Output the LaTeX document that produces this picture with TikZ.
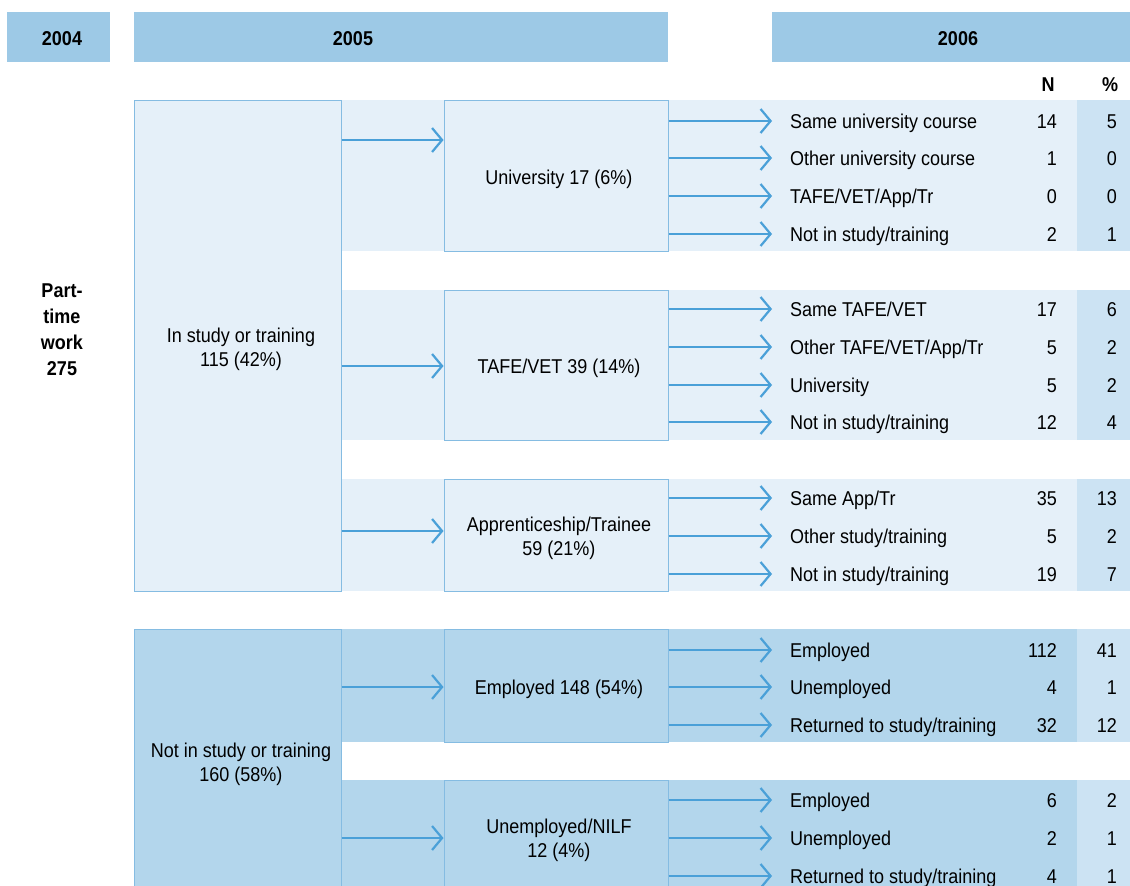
\documentclass[tikz,border=0pt]{standalone}
\usepackage{fontspec}
\setmainfont[FakeStretch=0.9]{Liberation Sans}
\usetikzlibrary{arrows.meta}
\definecolor{hdr}{RGB}{157,201,230}
\definecolor{lite}{RGB}{229,240,249}
\definecolor{mid}{RGB}{179,214,236}
\definecolor{pct}{RGB}{204,227,243}
\definecolor{edge}{RGB}{133,188,226}
\definecolor{arr}{RGB}{74,160,216}
\begin{document}
\begin{tikzpicture}[x=1pt,y=-1pt,
  font=\fontsize{20}{24}\selectfont,
  hdrbox/.style={fill=hdr, draw=none, inner sep=0pt},
  hdrtxt/.style={font=\fontsize{20}{24}\selectfont\bfseries, inner sep=0pt, yshift=-2pt},
  box/.style={draw=edge, line width=1pt, inner sep=0pt},
  txt/.style={align=center, inner sep=0pt, yshift=-2pt},
  rowlab/.style={anchor=west, inner xsep=18pt, inner ysep=0pt, text height=17pt, text depth=2pt},
  num/.style={anchor=east, inner sep=0pt, text height=15pt, text depth=4pt, yshift=-2pt},
  flow/.style={draw=arr, line width=2.4pt, -{Straight Barb[length=10pt,width=24pt,line width=2.2pt]}},
  bold/.style={font=\fontsize{20}{26}\selectfont\bfseries, align=center, inner sep=0pt, yshift=-2pt}]
\path[use as bounding box, fill=white] (0,0) rectangle (1130,886);
% headers
\node[hdrbox, minimum width=103, minimum height=50] (h4) at (58.5,37) {};
\node[hdrbox, minimum width=534, minimum height=50] (h5) at (401,37) {};
\node[hdrbox, minimum width=358, minimum height=50] (h6) at (951,37) {};
\node[hdrtxt] (t4) at (62,37) {2004};
\node[hdrtxt] (t5) at (353,37) {2005};
\node[hdrtxt] (t6) at (958,37) {2006};
\node[bold] (colN) at (1048,83) {N};
\node[bold] (colP) at (1110,83) {\%};
\node[bold] (ptw) at (62,328) {Part-\\time\\work\\275};
% bands
\fill[lite] (341,100) rectangle (1130,251);
\fill[lite] (341,290) rectangle (1130,440);
\fill[lite] (341,479) rectangle (1130,591);
\fill[mid] (341,629) rectangle (1130,742);
\fill[mid] (341,780) rectangle (1130,886);
\foreach \a/\b in {100/251,290/440,479/591,629/742,780/886}
  \fill[pct] (1077,\a) rectangle (1130,\b);
% left boxes
\node[box, fill=lite, minimum width=207, minimum height=491] (ins) at (237.5,345.5) {};
\node[txt] (inst) at (241,347) {In study or training\\115 (42\%)};
\node[box, fill=mid, minimum width=207, minimum height=258] (nins) at (237.5,758) {};
\node[txt] (ninst) at (241,762) {Not in study or training\\160 (58\%)};
% sub boxes
\node[box, fill=lite, minimum width=224, minimum height=151] (uni) at (556,175.5) {};
\node[txt] (unit) at (559,177) {University 17 (6\%)};
\node[box, fill=lite, minimum width=224, minimum height=150] (tafe) at (556,365) {};
\node[txt] (tafet) at (559,366) {TAFE/VET 39 (14\%)};
\node[box, fill=lite, minimum width=224, minimum height=112] (app) at (556,535) {};
\node[txt] (appt) at (559,536) {Apprenticeship/Trainee\\59 (21\%)};
\node[box, fill=mid, minimum width=224, minimum height=113] (emp) at (556,685.5) {};
\node[txt] (empt) at (559,687) {Employed 148 (54\%)};
\node[box, fill=mid, minimum width=224, minimum height=107] (une) at (556,833.5) {};
\node[txt] (unet) at (559,838) {Unemployed/NILF\\12 (4\%)};
% arrows from left boxes
\coordinate (a1) at (0,140);
\coordinate (a2) at (0,366);
\coordinate (a3) at (0,531);
\coordinate (a4) at (0,687);
\coordinate (a5) at (0,838);
\draw[flow] (ins.east |- a1) -- (uni.west |- a1);
\draw[flow] (ins.east |- a2) -- (tafe.west |- a2);
\draw[flow] (ins.east |- a3) -- (app.west |- a3);
\draw[flow] (nins.east |- a4) -- (emp.west |- a4);
\draw[flow] (nins.east |- a5) -- (une.west |- a5);
% rows
\foreach \src/\id/\y/\lab/\n/\p in {
  uni/r1/121/Same university course/14/5,
  uni/r2/158/Other university course/1/0,
  uni/r3/196/TAFE\slash VET\slash App\slash Tr/0/0,
  uni/r4/234/Not in study\slash training/2/1,
  tafe/r5/309/Same TAFE\slash VET/17/6,
  tafe/r6/347/Other TAFE\slash VET\slash App\slash Tr/5/2,
  tafe/r7/385/University/5/2,
  tafe/r8/422/Not in study\slash training/12/4,
  app/r9/498/Same App\slash Tr/35/13,
  app/r10/536/Other study\slash training/5/2,
  app/r11/574/Not in study\slash training/19/7,
  emp/r12/650/Employed/112/41,
  emp/r13/687/Unemployed/4/1,
  emp/r14/725/Returned to study\slash training/32/12,
  une/r15/800/Employed/6/2,
  une/r16/838/Unemployed/2/1,
  une/r17/876/Returned to study\slash training/4/1}{
  \node[rowlab] (\id) at (772,\y) {\lab};
  \node[num] (\id n) at (1057,\y) {\n};
  \node[num] (\id p) at (1117,\y) {\p};
  \draw[flow] (\src.east |- \id.west) -- (\id.west);
}
\end{tikzpicture}
\end{document}
